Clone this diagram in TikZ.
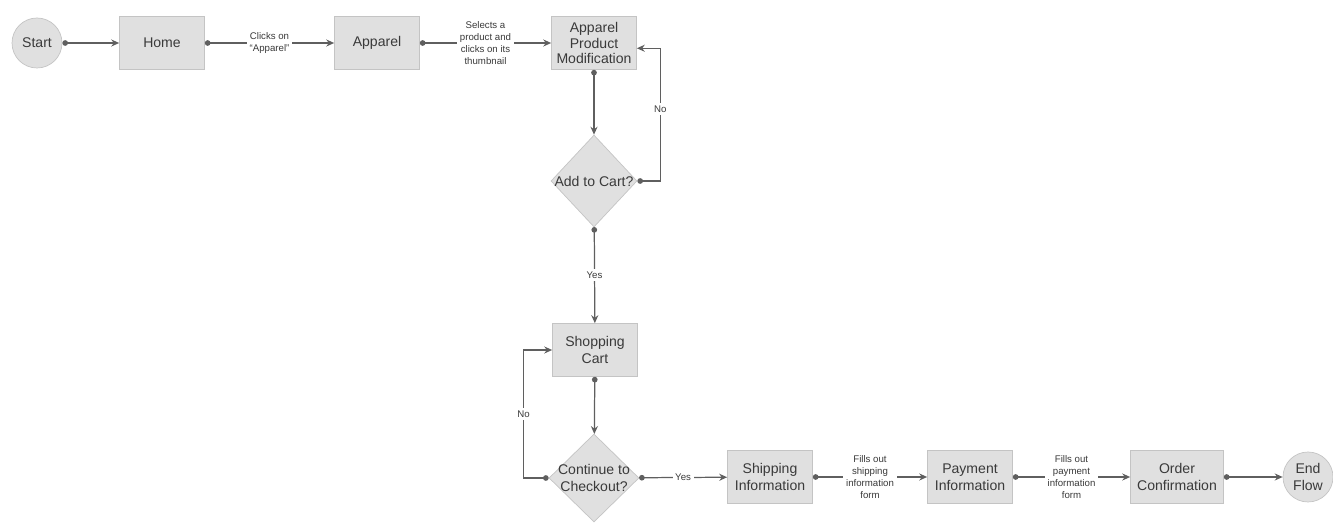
\documentclass[tikz,border=0pt]{standalone}
\usepackage{fontspec}
\setmainfont{Liberation Sans}
\usetikzlibrary{shapes.geometric,arrows.meta}
\definecolor{boxfill}{HTML}{E0E0E0}
\definecolor{boxline}{HTML}{C4C4C4}
\definecolor{wire}{HTML}{5F5F5F}
\definecolor{ink}{HTML}{3A3A3A}
\begin{document}
\begin{tikzpicture}[x=0.02cm,y=-0.02cm,
  page/.style={draw=boxline,fill=boxfill,text=ink,minimum width=1.7cm,minimum height=1.06cm,
    inner sep=1pt,align=center,font=\fontsize{8}{9.5}\selectfont},
  term/.style={circle,draw=boxline,fill=boxfill,text=ink,minimum size=1cm,inner sep=0pt,
    align=center,font=\fontsize{8}{9.5}\selectfont},
  choice/.style={diamond,draw=boxline,fill=boxfill,text=ink,inner sep=0pt,align=center,
    font=\fontsize{8}{9.5}\selectfont},
  conn/.style={draw=wire,line width=0.7pt,{Circle[length=3.2pt]}-{Stealth[length=4.5pt,width=4pt]}},
  lbl/.style={fill=white,text=ink,inner sep=1.5pt,align=center,font=\fontsize{5.5}{6.8}\selectfont}]
  \useasboundingbox (0,0) rectangle (1333,526);
  \node[term] at (37,43) (start) {Start};
  \node[page] at (162,43) (home) {Home};
  \node[page] at (377,43) (apparel) {Apparel};
  \node[page,font=\fontsize{8}{8.8}\selectfont] at (594,43) (modify) {Apparel\\Product\\Modification};
  \node[choice,minimum width=1.72cm,minimum height=1.84cm] at (594,181) (addcart) {\makebox[0pt]{Add to Cart?}};
  \node[page] at (595,350) (cart) {Shopping\\Cart};
  \node[choice,minimum width=1.8cm,minimum height=1.76cm] at (594,478) (checkout)
    {\makebox[0pt]{Continue to}\\\makebox[0pt]{Checkout?}};
  \node[page] at (770,477) (shipping) {Shipping\\Information};
  \node[page] at (970,477) (payment) {Payment\\Information};
  \node[page,minimum width=1.86cm] at (1177,477) (order) {Order\\Confirmation};
  \node[term] at (1308,477) (endflow) {End\\Flow};
  \draw[conn] (start) -- (home);
  \draw[conn] (home) -- node[lbl]{Clicks on\\``Apparel''} (apparel);
  \draw[conn] (apparel) -- node[lbl]{Selects a\\product and\\clicks on its\\thumbnail} (modify);
  \draw[conn] (modify) -- (addcart);
  \draw[conn] (addcart.east) -- ++(23,0) |- node[lbl,pos=0.27]{No} ([yshift=-3pt]modify.east);
  \draw[conn] (addcart) -- node[lbl]{Yes} (cart);
  \draw[conn] (cart) -- (checkout);
  \draw[conn] (checkout.west) -- ++(-25,0) |- node[lbl,pos=0.25]{No} (cart.west);
  \draw[conn] (checkout) -- node[lbl]{Yes} (shipping);
  \draw[conn] (shipping) -- node[lbl]{Fills out\\shipping\\information\\form} (payment);
  \draw[conn] (payment) -- node[lbl]{Fills out\\payment\\information\\form} (order);
  \draw[conn] (order) -- (endflow);
\end{tikzpicture}
\end{document}
